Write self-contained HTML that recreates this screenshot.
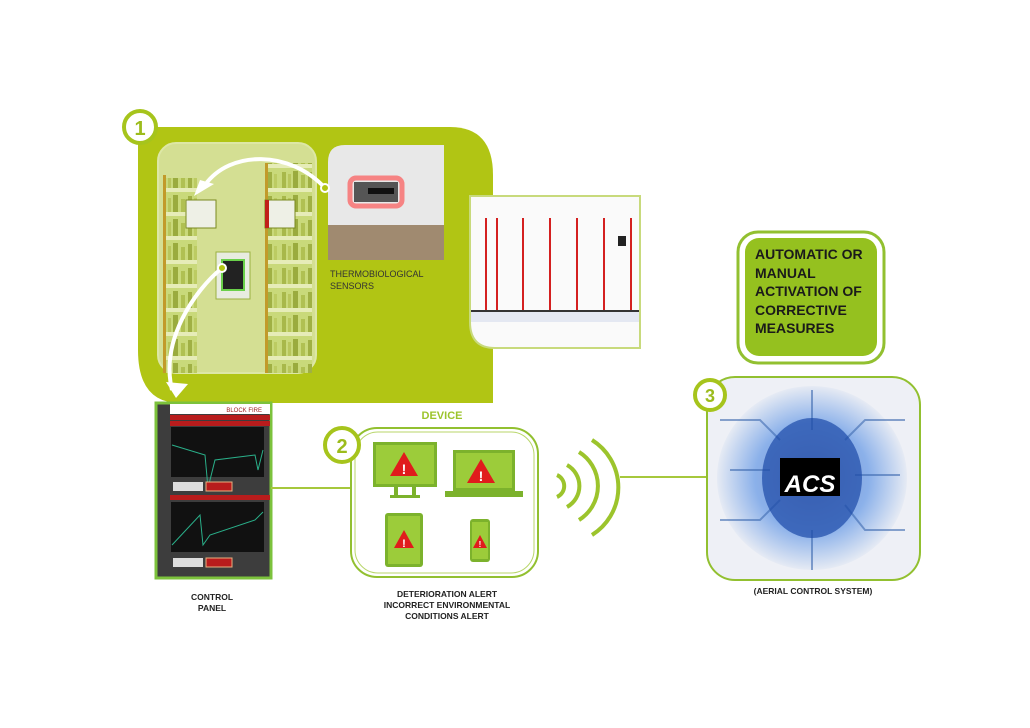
<!DOCTYPE html>
<html><head><style>
body{margin:0;width:1030px;height:728px;background:#fff;position:relative;overflow:hidden;font-family:"Liberation Sans",sans-serif}
.a{position:absolute}
.t{font-weight:bold;color:#222;text-align:center}
</style></head><body>
<svg class="a" style="left:0;top:0" width="1030" height="728">
<defs>
<pattern id="shelf" width="40" height="24" patternUnits="userSpaceOnUse">
<rect width="40" height="24" fill="#c9d97a"/>
<rect y="20" width="40" height="4" fill="#e6ecb8"/>
<rect x="2" y="4" width="4" height="16" fill="#a8b84a"/><rect x="8" y="6" width="3" height="14" fill="#b8c65c"/><rect x="13" y="3" width="5" height="17" fill="#9aab3e"/><rect x="21" y="7" width="4" height="13" fill="#b0c052"/><rect x="28" y="4" width="4" height="16" fill="#a0b044"/><rect x="34" y="6" width="3" height="14" fill="#bccb62"/>
</pattern>
<radialGradient id="brain" cx="50%" cy="50%" r="50%"><stop offset="0" stop-color="#1a3fa0"/><stop offset="0.6" stop-color="#3a7de0"/><stop offset="1" stop-color="#dfe6f2"/></radialGradient>
</defs>
<!-- big green area -->
<path d="M138 127 H450 Q493 127 493 175 V403 H180 Q138 403 138 350 Z" fill="#b1c514"/>
<circle cx="140" cy="127" r="16" fill="#fff" stroke="#a6c41c" stroke-width="4"/>
<text x="140" y="135" text-anchor="middle" font-family="Liberation Sans" font-weight="bold" font-size="20" fill="#9cbc1c">1</text>
<!-- bookshelf panel -->
<rect x="158" y="143" width="158" height="230" rx="18" fill="#d4df93" stroke="#dde7a6" stroke-width="2"/>
<rect x="163" y="178" width="34" height="195" fill="url(#shelf)"/>
<rect x="268" y="163" width="44" height="210" fill="url(#shelf)"/>
<rect x="163" y="175" width="3" height="198" fill="#c29a2a"/>
<rect x="265" y="163" width="3" height="210" fill="#c29a2a"/>
<rect x="186" y="200" width="30" height="28" fill="#eef0e6" stroke="#7a8a20"/>
<rect x="265" y="200" width="30" height="28" fill="#eef0e6" stroke="#7a8a20"/>
<rect x="265" y="200" width="4" height="28" fill="#c0201a"/>
<rect x="216" y="252" width="34" height="47" fill="#e8ece0" stroke="#9ab040"/>
<rect x="222" y="260" width="22" height="30" fill="#222" stroke="#6ad04a" stroke-width="2"/>
<!-- sensor photo -->
<path d="M328 162 Q328 145 345 145 H444 V240 Q444 260 424 260 H328 Z" fill="#e8e8e8"/>
<rect x="328" y="225" width="116" height="35" fill="#a08a70"/>
<rect x="350" y="178" width="52" height="28" rx="6" fill="none" stroke="#ff4040" stroke-width="5" opacity="0.6"/>
<rect x="354" y="182" width="44" height="20" fill="#555"/>
<rect x="368" y="188" width="26" height="6" fill="#111"/>
<!-- cabinets photo -->
<path d="M470 196 H640 V348 H495 Q470 348 470 322 Z" fill="#fafafa" stroke="#c8da7c" stroke-width="2"/>
<rect x="471" y="312" width="168" height="10" fill="#e4e8f2"/>
<rect x="471" y="310" width="168" height="2" fill="#333"/>
<g fill="#d42020"><rect x="485" y="218" width="2" height="92"/><rect x="496" y="218" width="2" height="92"/><rect x="522" y="218" width="2" height="92"/><rect x="549" y="218" width="2" height="92"/><rect x="576" y="218" width="2" height="92"/><rect x="603" y="218" width="2" height="92"/><rect x="630" y="218" width="2" height="92"/></g>
<rect x="618" y="236" width="8" height="10" fill="#222"/>
<!-- arrows -->
<path d="M325 188 C290 150 230 150 205 185" fill="none" stroke="#fff" stroke-width="4"/>
<polygon points="194,196 214,184 200,180" fill="#fff"/>
<circle cx="325" cy="188" r="4" fill="#b1c514" stroke="#fff" stroke-width="2"/>
<path d="M222 268 C195 290 160 340 172 390" fill="none" stroke="#fff" stroke-width="4"/>
<polygon points="166,382 188,384 176,398" fill="#fff"/>
<circle cx="222" cy="268" r="4" fill="#b1c514" stroke="#fff" stroke-width="2"/>
<!-- control panel -->
<rect x="156" y="403" width="115" height="175" fill="#3d3d3d" stroke="#7cc23c" stroke-width="3"/>
<rect x="170" y="404" width="100" height="10" fill="#fff"/>
<text x="262" y="412" text-anchor="end" font-size="6" fill="#a02020">BLOCK FIRE</text>
<rect x="170" y="415" width="100" height="5" fill="#b81c1c"/>
<rect x="170" y="421" width="100" height="5" fill="#b81c1c"/>
<rect x="171" y="427" width="93" height="50" fill="#111"/>
<path d="M172 445 L205 455 L208 488 L215 460 L255 455 L258 470 L263 450" fill="none" stroke="#2ab08a" stroke-width="1"/>
<rect x="173" y="482" width="30" height="9" fill="#ddd"/><rect x="206" y="482" width="26" height="9" fill="#b81c1c" stroke="#e8b080"/>
<rect x="170" y="495" width="100" height="5" fill="#b81c1c"/>
<rect x="171" y="502" width="93" height="50" fill="#111"/>
<path d="M172 545 L200 515 L203 545 L210 535 L255 520 L263 512" fill="none" stroke="#2ab08a" stroke-width="1"/>
<rect x="173" y="558" width="30" height="9" fill="#ddd"/><rect x="206" y="558" width="26" height="9" fill="#b81c1c" stroke="#e8b080"/>
<!-- connector lines -->
<line x1="271" y1="488" x2="350" y2="488" stroke="#a6c83c" stroke-width="2"/>
<line x1="620" y1="477" x2="706" y2="477" stroke="#a6c83c" stroke-width="2"/>
<!-- device box -->
<rect x="351" y="428" width="187" height="149" rx="26" fill="#fff" stroke="#92c030" stroke-width="2"/>
<rect x="355" y="432" width="179" height="141" rx="23" fill="none" stroke="#b8d66a" stroke-width="1"/>
<circle cx="342" cy="445" r="17" fill="#fff" stroke="#a6c41c" stroke-width="4"/>
<text x="342" y="453" text-anchor="middle" font-weight="bold" font-size="20" fill="#9cbc1c">2</text>
<g fill="#7cb22c"><rect x="373" y="442" width="64" height="45"/><rect x="394" y="487" width="4" height="10"/><rect x="412" y="487" width="4" height="10"/><rect x="390" y="495" width="30" height="3"/>
<rect x="453" y="450" width="62" height="41"/><rect x="445" y="491" width="78" height="6"/>
<rect x="385" y="513" width="38" height="54" rx="3"/><rect x="470" y="519" width="20" height="43" rx="3"/></g>
<g fill="#9ccc3a"><rect x="376" y="445" width="58" height="39"/><rect x="456" y="453" width="56" height="35"/><rect x="388" y="516" width="32" height="48"/><rect x="472" y="522" width="16" height="37"/></g>
<g fill="#e01c1c"><polygon points="404,452 418,476 390,476"/><polygon points="481,459 495,483 467,483"/><polygon points="404,530 414,548 394,548"/><polygon points="480,535 487,548 473,548"/></g>
<g fill="#fff" font-weight="bold" text-anchor="middle"><text x="404" y="474" font-size="14">!</text><text x="481" y="481" font-size="14">!</text><text x="404" y="547" font-size="11">!</text><text x="480" y="547" font-size="8">!</text></g>
<!-- wifi -->
<g fill="none" stroke="#9cc42c" stroke-width="4"><path d="M557 475 A12 12 0 0 1 557 497"/><path d="M567 465 A24 24 0 0 1 567 507"/><path d="M579 452 A40 40 0 0 1 579 520"/><path d="M592 440 A56 56 0 0 1 592 535"/></g>
<!-- right text box -->
<rect x="738" y="232" width="146" height="131" rx="20" fill="#fff" stroke="#92c030" stroke-width="3"/>
<rect x="745" y="238" width="132" height="118" rx="14" fill="#95c11f"/>
<!-- ACS box -->
<rect x="707" y="377" width="213" height="203" rx="28" fill="#eef0f6" stroke="#92c030" stroke-width="2"/>
<ellipse cx="812" cy="478" rx="95" ry="92" fill="url(#brain)" opacity="0.55"/>
<g stroke="#3e6ab0" stroke-width="2" fill="none" opacity="0.6"><path d="M720 420 H760 L780 440"/><path d="M720 520 H760 L780 500"/><path d="M905 420 H865 L845 440"/><path d="M905 530 H865 L845 505"/><path d="M812 390 V430"/><path d="M812 530 V570"/><path d="M730 470 H770"/><path d="M855 475 H900"/></g>
<ellipse cx="812" cy="478" rx="50" ry="60" fill="#1d4aa8" opacity="0.7"/>
<rect x="780" y="458" width="60" height="38" fill="#000"/>
<text x="810" y="492" text-anchor="middle" font-weight="bold" font-style="italic" font-size="24" fill="#fff">ACS</text>
<circle cx="710" cy="395" r="15" fill="#fff" stroke="#a6c41c" stroke-width="4"/>
<text x="710" y="402" text-anchor="middle" font-weight="bold" font-size="18" fill="#9cbc1c">3</text>
</svg>
<div class="a" style="left:330px;top:268px;font-size:9px;color:#333;line-height:12px">THERMOBIOLOGICAL<br>SENSORS</div>
<div class="a t" style="left:402px;top:410px;width:80px;font-size:11px;color:#9cc42c">DEVICE</div>
<div class="a" style="left:755px;top:245px;font-size:14px;font-weight:bold;color:#1a1a1a;line-height:18.5px">AUTOMATIC OR<br>MANUAL<br>ACTIVATION OF<br>CORRECTIVE<br>MEASURES</div>
<div class="a t" style="left:162px;top:592px;width:100px;font-size:8.5px;line-height:11px">CONTROL<br>PANEL</div>
<div class="a t" style="left:357px;top:589px;width:180px;font-size:8.5px;line-height:11px">DETERIORATION ALERT<br>INCORRECT ENVIRONMENTAL<br>CONDITIONS ALERT</div>
<div class="a t" style="left:733px;top:586px;width:160px;font-size:8.5px">(AERIAL CONTROL SYSTEM)</div>
</body></html>
